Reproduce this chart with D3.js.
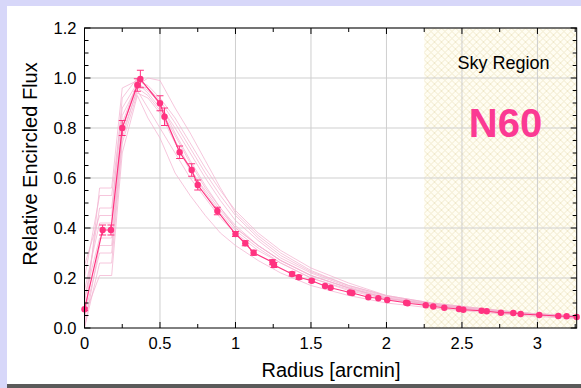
<!DOCTYPE html>
<html>
<head>
<meta charset="utf-8">
<script src="https://cdn.jsdelivr.net/npm/d3@7"></script>
<style>
  html, body { margin: 0; padding: 0; background: #d7d7f9; }
  svg { display: block; }
</style>
</head>
<body>
<svg id="chart"></svg>
<script>
// mean profile (points with error bars)
const radius = [0, 0.12, 0.175, 0.25, 0.35, 0.37, 0.5, 0.53, 0.63, 0.71, 0.75, 0.88, 1.0, 1.065, 1.12, 1.245, 1.255, 1.375, 1.42, 1.505,
  1.593, 1.63, 1.758, 1.774, 1.88, 1.946, 2.005, 2.13, 2.14, 2.26, 2.31, 2.383, 2.48, 2.509, 2.63, 2.664, 2.758, 2.84, 2.889, 3.012, 3.138, 3.193, 3.26];
const flux = [0.075, 0.392, 0.392, 0.80, 0.972, 0.996, 0.899, 0.845, 0.703, 0.632, 0.572, 0.468, 0.376, 0.339, 0.301, 0.263, 0.252, 0.216, 0.203, 0.189,
  0.168, 0.161, 0.142, 0.140, 0.123, 0.119, 0.112, 0.101, 0.099, 0.091, 0.086, 0.081, 0.076, 0.073, 0.069, 0.067, 0.061, 0.060, 0.056, 0.052, 0.048, 0.047, 0.044];
const fluxErr = [0.005, 0.02, 0.02, 0.03, 0.025, 0.035, 0.03, 0.035, 0.025, 0.025, 0.02, 0.015, 0.01, 0.01, 0.01, 0.01, 0.01, 0.008, 0.008, 0.006,
  0, 0, 0, 0, 0, 0, 0, 0, 0, 0, 0, 0, 0, 0, 0, 0, 0, 0, 0, 0, 0, 0, 0];

// individual profiles behind the mean
const profileRadius = [0, 0.1, 0.18, 0.25, 0.35, 0.42, 0.5, 0.6, 0.7, 0.8, 0.9, 1.0, 1.15, 1.3, 1.5, 1.75, 2.0, 2.3, 2.6, 2.9, 3.26];
const profiles = [
  [0.02, 0.56, 0.56, 0.96, 0.99, 0.97, 0.92, 0.84, 0.74, 0.64, 0.55, 0.47, 0.38, 0.31, 0.24, 0.18, 0.13, 0.10, 0.08, 0.06, 0.05],
  [0.10, 0.48, 0.48, 0.85, 0.97, 1.00, 0.99, 0.88, 0.78, 0.67, 0.56, 0.46, 0.37, 0.30, 0.23, 0.17, 0.13, 0.10, 0.08, 0.06, 0.045],
  [0.00, 0.33, 0.33, 0.78, 0.95, 0.88, 0.80, 0.70, 0.60, 0.52, 0.44, 0.38, 0.31, 0.26, 0.20, 0.15, 0.115, 0.09, 0.07, 0.055, 0.04],
  [0.05, 0.21, 0.21, 0.70, 0.93, 0.84, 0.76, 0.62, 0.53, 0.45, 0.38, 0.33, 0.27, 0.22, 0.17, 0.13, 0.10, 0.08, 0.065, 0.05, 0.037],
  [0.15, 0.42, 0.42, 0.82, 0.98, 0.95, 0.90, 0.78, 0.67, 0.57, 0.48, 0.41, 0.33, 0.27, 0.21, 0.16, 0.12, 0.095, 0.075, 0.06, 0.045],
  [0.25, 0.45, 0.45, 0.92, 1.00, 0.96, 0.89, 0.80, 0.70, 0.60, 0.51, 0.43, 0.35, 0.28, 0.22, 0.165, 0.125, 0.095, 0.075, 0.06, 0.048],
  [0.05, 0.30, 0.30, 0.76, 0.96, 0.93, 0.87, 0.75, 0.64, 0.54, 0.46, 0.39, 0.32, 0.26, 0.20, 0.155, 0.118, 0.092, 0.072, 0.057, 0.043],
  [0.00, 0.26, 0.26, 0.74, 0.94, 0.92, 0.86, 0.74, 0.63, 0.55, 0.47, 0.40, 0.33, 0.27, 0.21, 0.16, 0.12, 0.093, 0.073, 0.058, 0.044],
  [0.12, 0.36, 0.36, 0.80, 0.97, 0.96, 0.91, 0.82, 0.72, 0.62, 0.53, 0.45, 0.36, 0.29, 0.225, 0.17, 0.128, 0.098, 0.077, 0.061, 0.046],
  [0.20, 0.53, 0.53, 0.88, 0.98, 0.94, 0.88, 0.77, 0.66, 0.56, 0.48, 0.40, 0.33, 0.27, 0.21, 0.16, 0.12, 0.093, 0.073, 0.058, 0.044]
];

const skyStart = 2.25;
const xTicks = [0, 0.5, 1, 1.5, 2, 2.5, 3];
const xTickLabels = ["0", "0.5", "1", "1.5", "2", "2.5", "3"];
const yTicks = [0, 0.2, 0.4, 0.6, 0.8, 1.0, 1.2];
const yTickLabels = ["0.0", "0.2", "0.4", "0.6", "0.8", "1.0", "1.2"];

const W = 581, H = 388;
const m = {top: 28, right: 4.3, bottom: 60, left: 84.5};
const pink = "#ff3380";

const svg = d3.select("#chart").attr("width", W).attr("height", H);

// panel with a dark shadow at the bottom
svg.append("rect").attr("x", 7).attr("y", 388 - 4).attr("width", W).attr("height", 4).attr("fill", "#5a5a5a");
svg.append("rect").attr("x", 7).attr("y", 6).attr("width", W).attr("height", 378).attr("fill", "#fff");

const defs = svg.append("defs");
const hatch = defs.append("pattern")
  .attr("id", "hatch").attr("patternUnits", "userSpaceOnUse")
  .attr("width", 7).attr("height", 7);
hatch.append("rect").attr("width", 7).attr("height", 7).attr("fill", "#fffdf2");
hatch.append("path").attr("d", "M0,0L7,7M7,0L0,7").attr("stroke", "#ece3c2").attr("stroke-width", 0.8);

const width = W - m.left - m.right;
const height = H - m.top - m.bottom;

const x = d3.scaleLinear().domain([0, 3.26]).range([0, width]);
const y = d3.scaleLinear().domain([0, 1.2]).range([height, 0]);

const g = svg.append("g").attr("transform", `translate(${m.left},${m.top})`);

defs.append("clipPath").attr("id", "plotClip")
  .append("rect").attr("width", width).attr("height", height);

// sky region band
g.append("rect")
  .attr("x", x(skyStart)).attr("y", 0)
  .attr("width", x(3.26) - x(skyStart)).attr("height", height)
  .attr("fill", "url(#hatch)");

// grid
g.selectAll(".gx").data(xTicks.slice(1)).enter().append("line")
  .attr("x1", d => x(d)).attr("x2", d => x(d))
  .attr("y1", 0).attr("y2", height)
  .attr("stroke", "#cfcfcf").attr("stroke-width", 1);
g.selectAll(".gy").data(yTicks.slice(1)).enter().append("line")
  .attr("x1", 0).attr("x2", width)
  .attr("y1", d => y(d)).attr("y2", d => y(d))
  .attr("stroke", "#cfcfcf").attr("stroke-width", 1);

const plot = g.append("g").attr("clip-path", "url(#plotClip)");

const line = d3.line().x(d => x(d[0])).y(d => y(d[1]));

profiles.forEach(p => {
  plot.append("path")
    .datum(profileRadius.map((r, i) => [r, p[i]]))
    .attr("d", line)
    .attr("fill", "none")
    .attr("stroke", "#f3b3d0")
    .attr("stroke-opacity", 0.75)
    .attr("stroke-width", 1);
});

const pts = radius.map((r, i) => ({r: r, f: flux[i], e: fluxErr[i]}));

plot.append("path")
  .datum(pts.map(d => [d.r, d.f]))
  .attr("d", line)
  .attr("fill", "none")
  .attr("stroke", pink)
  .attr("stroke-width", 1.2);

// error bars
const eb = plot.selectAll(".eb").data(pts.filter(d => d.e > 0)).enter().append("g")
  .attr("stroke", pink).attr("stroke-width", 1);
eb.append("line")
  .attr("x1", d => x(d.r)).attr("x2", d => x(d.r))
  .attr("y1", d => y(d.f + d.e)).attr("y2", d => y(d.f - d.e));
eb.append("line")
  .attr("x1", d => x(d.r) - 3.5).attr("x2", d => x(d.r) + 3.5)
  .attr("y1", d => y(d.f + d.e)).attr("y2", d => y(d.f + d.e));
eb.append("line")
  .attr("x1", d => x(d.r) - 3.5).attr("x2", d => x(d.r) + 3.5)
  .attr("y1", d => y(d.f - d.e)).attr("y2", d => y(d.f - d.e));

g.selectAll(".dot").data(pts).enter().append("circle")
  .attr("cx", d => x(d.r)).attr("cy", d => y(d.f))
  .attr("r", 3.2).attr("fill", pink);

// frame and inward ticks on all four sides
g.append("rect").attr("width", width).attr("height", height)
  .attr("fill", "none").attr("stroke", "#000").attr("stroke-width", 1);

const xMinor = d3.range(0.25, 3.26, 0.5);
const yMinor = d3.range(0, 1.2001, 0.05).filter(v => Math.abs(v / 0.2 - Math.round(v / 0.2)) > 1e-6);

function xTickMarks(vals, len) {
  g.selectAll(null).data(vals).enter().append("path")
    .attr("d", d => `M${x(d)},${height}v${-len}M${x(d)},0v${len}`)
    .attr("stroke", "#000").attr("stroke-width", 1);
}
function yTickMarks(vals, len) {
  g.selectAll(null).data(vals).enter().append("path")
    .attr("d", d => `M0,${y(d)}h${len}M${width},${y(d)}h${-len}`)
    .attr("stroke", "#000").attr("stroke-width", 1);
}
xTickMarks(xTicks, 6);
xTickMarks(xMinor, 4);
yTickMarks(yTicks, 6);
yTickMarks(yMinor, 4);

const font = "Arial, 'Liberation Sans', sans-serif";

g.selectAll(".xl").data(xTicks).enter().append("text")
  .attr("x", d => x(d)).attr("y", height + 21)
  .attr("text-anchor", "middle")
  .style("font-family", font).style("font-size", "16.5px")
  .text((d, i) => xTickLabels[i]);

g.selectAll(".yl").data(yTicks).enter().append("text")
  .attr("x", -8).attr("y", d => y(d) + 6)
  .attr("text-anchor", "end")
  .style("font-family", font).style("font-size", "16.5px")
  .text((d, i) => yTickLabels[i]);

g.append("text")
  .attr("x", 331 - m.left).attr("y", 377 - m.top)
  .attr("text-anchor", "middle")
  .style("font-family", font).style("font-size", "20px")
  .text("Radius [arcmin]");

g.append("text")
  .attr("transform", `translate(${37 - m.left},${164 - m.top}) rotate(-90)`)
  .attr("text-anchor", "middle")
  .style("font-family", font).style("font-size", "20px")
  .text("Relative Encircled Flux");

// sky region annotation
g.append("text")
  .attr("x", 503.5 - m.left).attr("y", 69 - m.top)
  .attr("text-anchor", "middle")
  .style("font-family", font).style("font-size", "18px")
  .text("Sky Region");

g.append("text")
  .attr("x", 505.5 - m.left).attr("y", 137 - m.top)
  .attr("text-anchor", "middle")
  .style("font-family", font).style("font-size", "40px").style("font-weight", "bold")
  .attr("fill", "#fb3a93")
  .text("N60");
</script>
</body>
</html>
